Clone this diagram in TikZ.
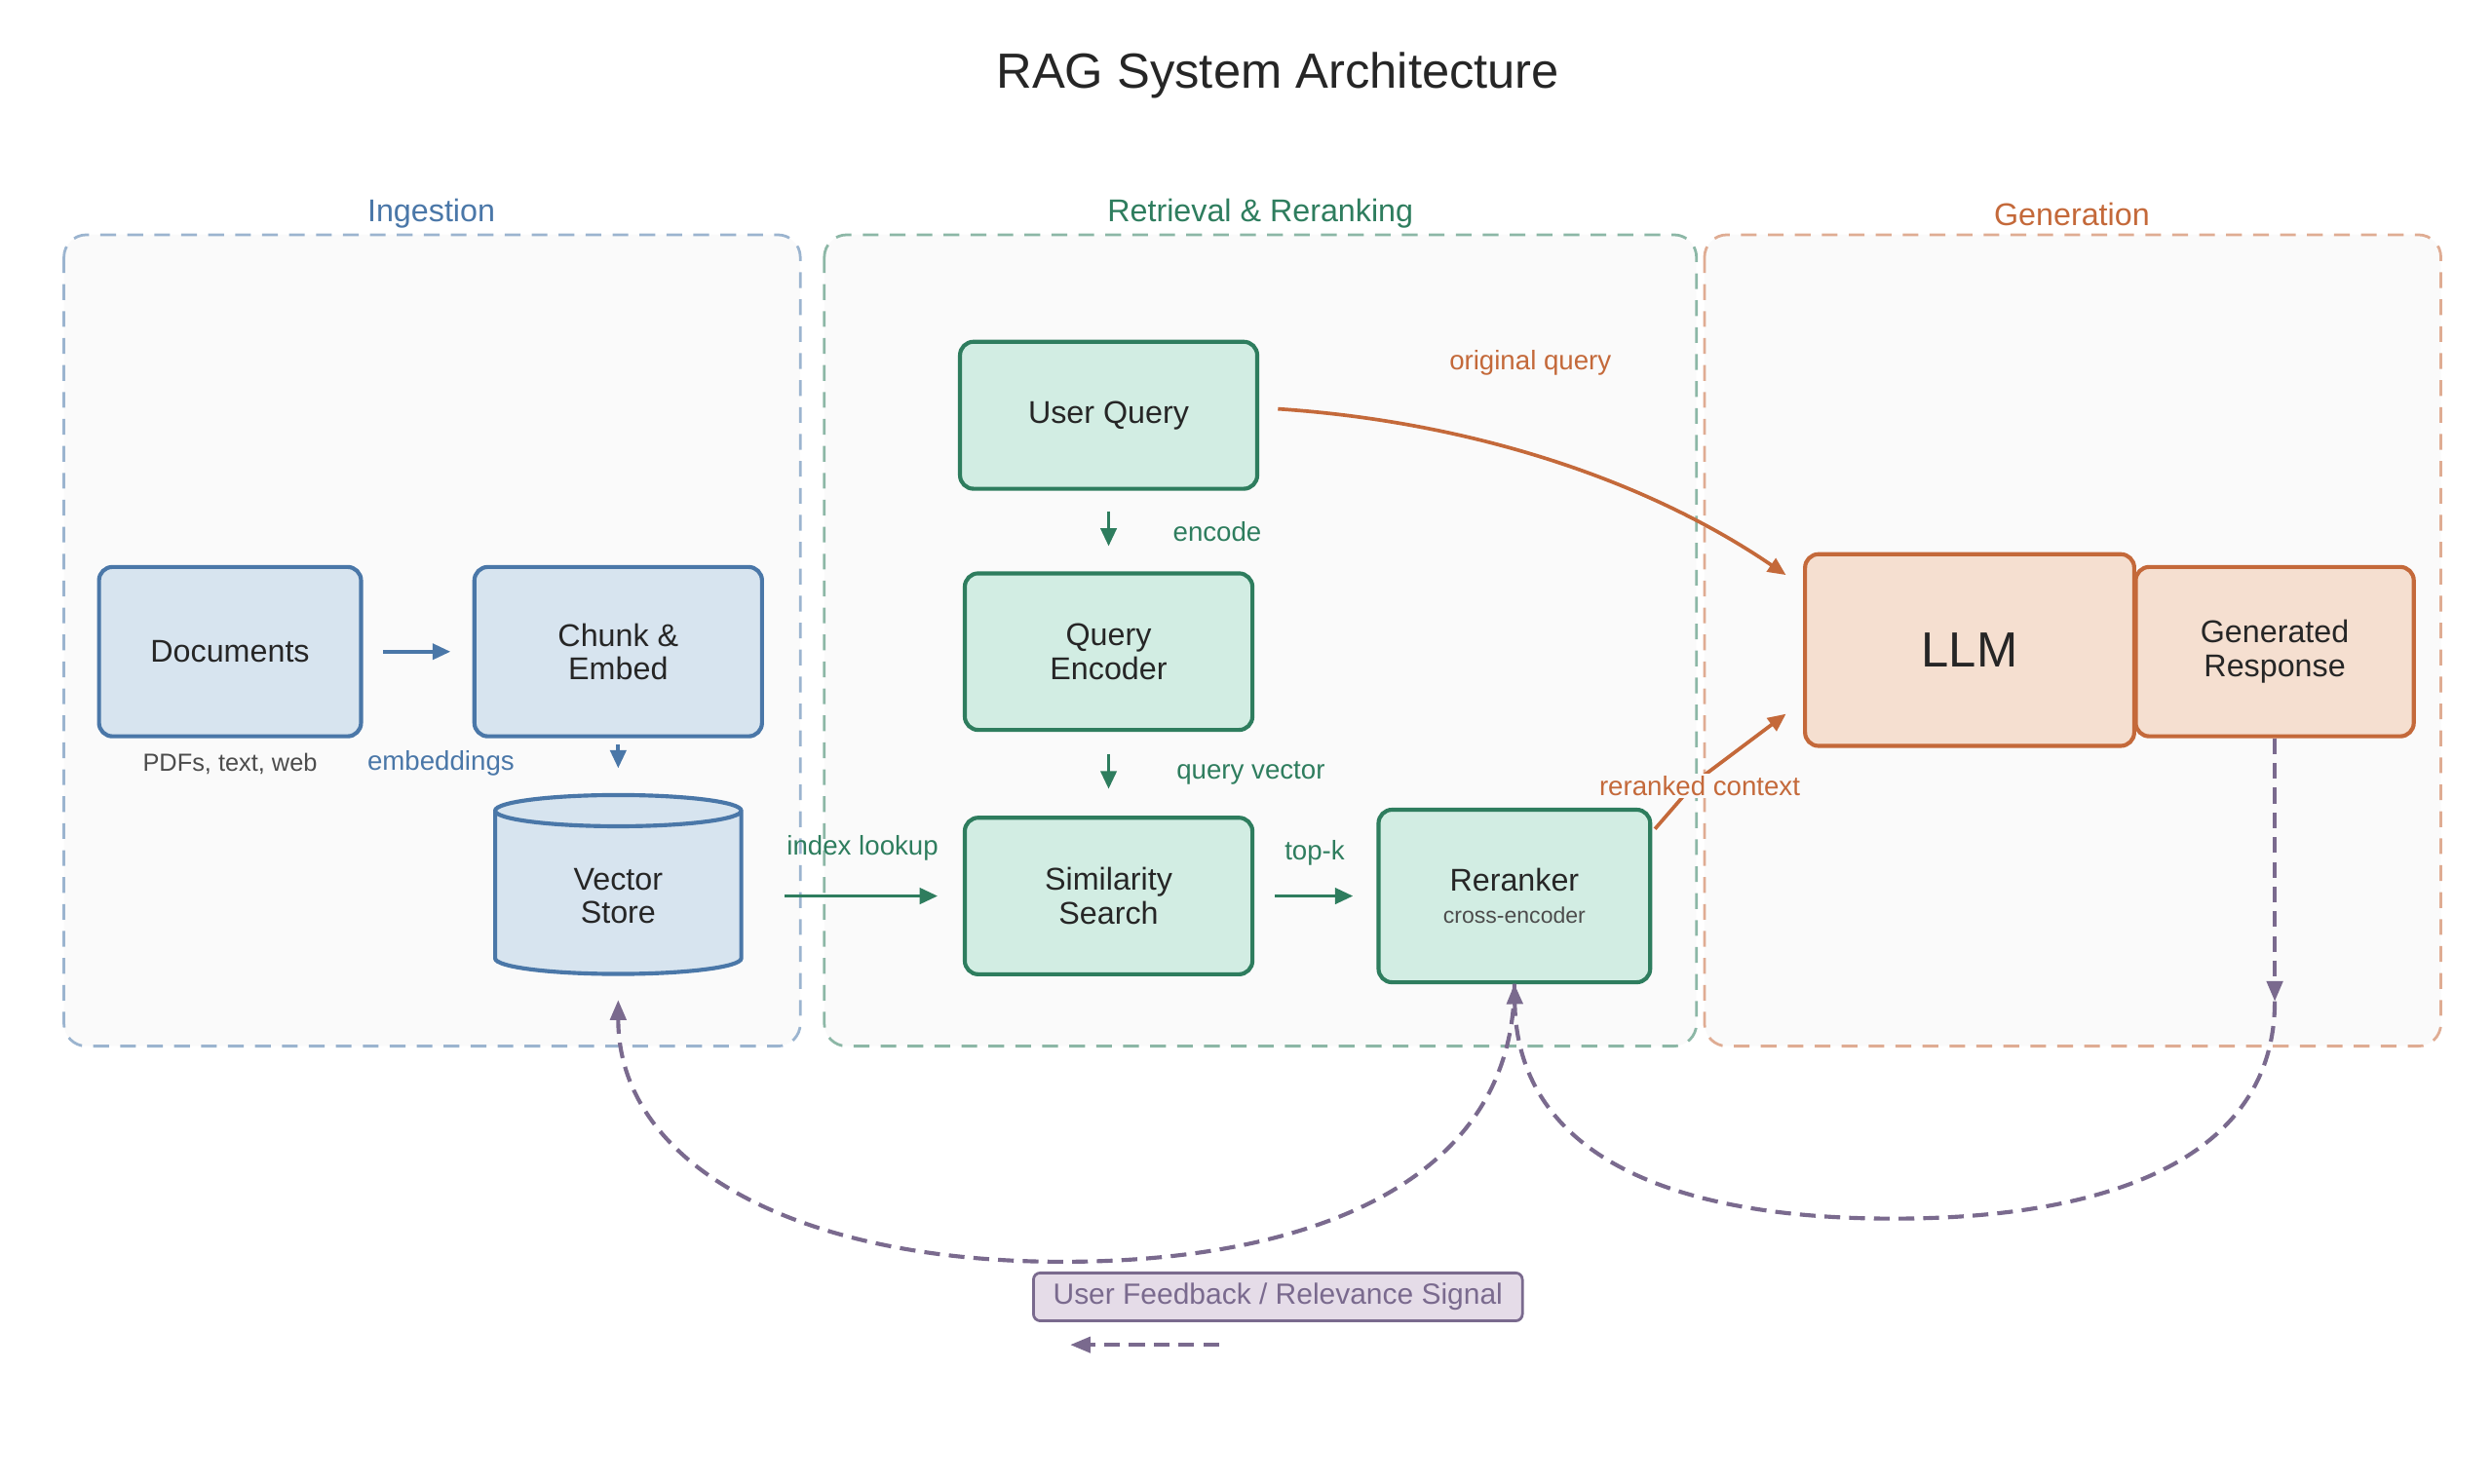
\documentclass[tikz,border=0pt]{standalone}
\usepackage{fontspec}
\setmainfont{Liberation Sans}
\usetikzlibrary{shapes.geometric, arrows.meta, positioning}
\definecolor{ingB}{HTML}{4A77A8}
\definecolor{ingF}{HTML}{D7E4EF}
\definecolor{retB}{HTML}{2E7D5E}
\definecolor{retF}{HTML}{D2EDE3}
\definecolor{genB}{HTML}{C4693A}
\definecolor{genF}{HTML}{F5DFD0}
\definecolor{fbB}{HTML}{7A6A8E}
\definecolor{fbF}{HTML}{E5DCE8}
\begin{document}
\begin{tikzpicture}[x=0.025cm, y=-0.025cm]
    \tikzset{
        group/.style = {draw=#1!55, dashed, dash pattern=on 7pt off 5pt, line width=1.2pt, rounded corners=10pt, fill=black!2},
        block/.style = {rectangle, rounded corners=6pt, draw=#1B, fill=#1F, line width=1.8pt, align=center, font=\fontsize{14}{15}\selectfont, text=black!85},
        line/.style = {draw=#1, line width=1.6pt, -{Triangle[length=8pt, width=7pt]}},
        lbl/.style = {font=\fontsize{12}{13}\selectfont, text=#1},
        fb/.style = {draw=fbB, line width=1.8pt, dashed, dash pattern=on 7pt off 4pt, -{Triangle[length=9pt, width=7pt]}}
    }
    \useasboundingbox (0,0) rectangle (1560,929);
    \node[font=\fontsize{22}{24}\selectfont, text=black!85] (title) at (800,47) {RAG System Architecture};

    % groups
    \draw[group=ingB] (40,147) rectangle (501,655);
    \draw[group=retB] (516,147) rectangle (1062,655);
    \draw[group=genB] (1067,147) rectangle (1528,655);
    \node[lbl=ingB, font=\fontsize{14}{15}\selectfont] (gIng) at (270,134) {Ingestion};
    \node[lbl=retB, font=\fontsize{14}{15}\selectfont] (gRet) at (789,134) {Retrieval \& Reranking};
    \node[lbl=genB, font=\fontsize{14}{15}\selectfont] (gGen) at (1297,134) {Generation};

    % ingestion
    \node[block=ing, minimum width=4.1cm, minimum height=2.65cm] (docs) at (144,408) {Documents};
    \node[block=ing, minimum width=4.5cm, minimum height=2.65cm] (chunk) at (387,408) {Chunk \&\\Embed};
    \node[cylinder, shape border rotate=90, aspect=0.3, draw=ingB, fill=ingF, line width=1.8pt, minimum width=3.85cm, minimum height=2.8cm, align=center, font=\fontsize{14}{15}\selectfont, text=black!85] (store) at (387,561) {Vector\\Store};
    \node[lbl=black!70, font=\fontsize{11}{12}\selectfont] (docsNote) at (144,478) {PDFs, text, web};

    % retrieval
    \node[block=ret, minimum width=4.65cm, minimum height=2.3cm] (query) at (694,260) {User Query};
    \node[block=ret, minimum width=4.5cm, minimum height=2.45cm] (encoder) at (694,408) {Query\\Encoder};
    \node[block=ret, minimum width=4.5cm, minimum height=2.45cm] (search) at (694,561) {Similarity\\Search};
    \node[block=ret, minimum width=4.25cm, minimum height=2.7cm] (rerank) at (948,561) {Reranker\\[-1pt]{\fontsize{10}{11}\selectfont\color{black!70}cross-encoder}};

    % generation
    \node[block=gen, minimum width=5.15cm, minimum height=3cm, font=\fontsize{22}{24}\selectfont] (llm) at (1233,407) {LLM};
    \node[block=gen, minimum width=4.35cm, minimum height=2.65cm] (resp) at (1424,408) {Generated\\Response};
    \node[rectangle, rounded corners=3pt, draw=fbB, fill=fbF, line width=1.2pt, font=\fontsize{13}{14}\selectfont, text=fbB, minimum width=7.65cm, minimum height=0.75cm] (feedback) at (800,812) {User Feedback / Relevance Signal};

    % flow
    \coordinate (a1) at (240,408); \coordinate (a2) at (282,408);
    \path[line=ingB] (a1) -- (a2);
    \coordinate (b1) at (387,466); \coordinate (b2) at (387,481);
    \path[line=ingB] (b1) -- (b2);
    \node[lbl=ingB] (embLbl) at (276,478) {embeddings};
    \coordinate (c1) at (694,320); \coordinate (c2) at (694,342);
    \path[line=retB] (c1) -- (c2);
    \node[lbl=retB] (encLbl) at (762,333) {encode};
    \coordinate (d1) at (694,472); \coordinate (d2) at (694,494);
    \path[line=retB] (d1) -- (d2);
    \node[lbl=retB] (qvLbl) at (783,484) {query vector};
    \coordinate (e1) at (491,561); \coordinate (e2) at (587,561);
    \path[line=retB] (e1) -- (e2);
    \node[lbl=retB] (idxLbl) at (540,531) {index lookup};
    \coordinate (f1) at (798,561); \coordinate (f2) at (847,561);
    \path[line=retB] (f1) -- (f2);
    \node[lbl=retB] (topLbl) at (823,534) {top-k};
    \coordinate (g1) at (800,256); \coordinate (g2) at (1118,360);
    \path[line=genB] (g1) .. controls (920,264) and (1030,300) .. (g2);
    \node[lbl=genB] (oqLbl) at (958,227) {original query};
    \coordinate (h1) at (1036,519); \coordinate (h2) at (1118,447);
    \path[line=genB] (h1) -- (1062,489) -- (h2);
    \node[lbl=genB, fill=black!2, inner sep=1pt] (rcLbl) at (1064,492) {reranked context};

    % feedback loop
    \coordinate (r1) at (1424,627);
    \coordinate (r2) at (948,616);
    \coordinate (r3) at (387,626);
    \coordinate (k1) at (763,842); \coordinate (k2) at (670,842);
    \draw[fb] (resp.south) -- (r1);
    \draw[fb] (r1) .. controls (1424,720) and (1330,763) .. (1185,763) .. controls (1040,763) and (950,720) .. (r2);
    \draw[fb] (r2) .. controls (948,740) and (820,790) .. (665,790) .. controls (500,790) and (387,730) .. (r3);
    \draw[fb, line width=1.6pt] (k1) -- (k2);
\end{tikzpicture}
\end{document}
